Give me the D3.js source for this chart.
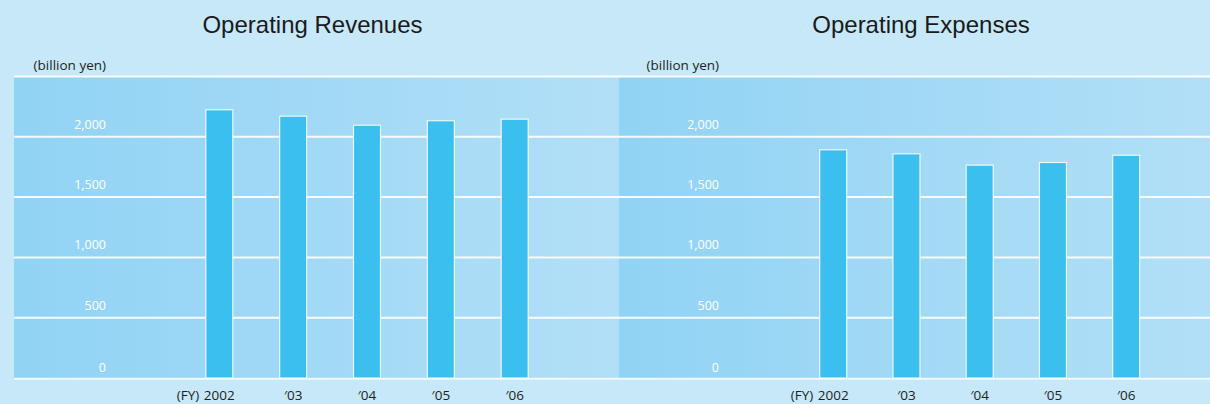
<!DOCTYPE html>
<html>
<head>
<meta charset="utf-8">
<script src="https://cdn.jsdelivr.net/npm/d3@7"></script>
<style>
  html, body { margin: 0; padding: 0; background: #c6e8f9; }
  svg { display: block; }
</style>
</head>
<body>
<div id="chart"></div>
<script>
// Fiscal years and values (billion yen)
const years = ["2002", "'03", "'04", "'05", "'06"];
const yearLabels = ["2002", "\u203203", "\u203204", "\u203205", "\u203206"];
const revenues = [2224, 2171, 2096, 2133, 2146];
const expenses = [1892, 1859, 1765, 1787, 1847];
const yTicks = [0, 500, 1000, 1500, 2000];
const gridValues = [500, 1000, 1500, 2000, 2500];
const titles = ["Operating Revenues", "Operating Expenses"];
const unitLabel = "(billion yen)";
const fyLabel = "(FY)";

const W = 1210, H = 404;
const svg = d3.select("#chart").append("svg")
  .attr("width", W).attr("height", H);

svg.append("rect").attr("width", W).attr("height", H).attr("fill", "#c6e8f9");

const defs = svg.append("defs");
const grad = defs.append("linearGradient").attr("id", "panelGrad")
  .attr("x1", "0%").attr("x2", "100%").attr("y1", "0%").attr("y2", "0%");
grad.append("stop").attr("offset", "0%").attr("stop-color", "#91d3f4");
grad.append("stop").attr("offset", "100%").attr("stop-color", "#b2dff7");

const y = d3.scaleLinear().domain([0, 2500]).range([378, 76.5]);

const panels = [
  { x0: 14, x1: 619, bars: [219.3, 514.7], tickRight: 106, title: titles[0], titleX: 312.5, values: revenues },
  { x0: 619, x1: 1210, bars: [833.2, 1126.2], tickRight: 719, title: titles[1], titleX: 921, values: expenses }
];

// Panel backgrounds
panels.forEach(p => {
  svg.append("rect")
    .attr("x", p.x0).attr("y", y(2500))
    .attr("width", p.x1 - p.x0).attr("height", y(0) - y(2500))
    .attr("fill", "url(#panelGrad)");
});

// Horizontal gridlines across both panels
svg.append("g").selectAll("line").data(gridValues).join("line")
  .attr("x1", 14).attr("x2", W)
  .attr("y1", d => y(d)).attr("y2", d => y(d))
  .attr("stroke", "#ffffff").attr("stroke-width", 2).attr("stroke-opacity", 0.9);

// Baseline
svg.append("line")
  .attr("x1", 14).attr("x2", W)
  .attr("y1", y(0) + 0.8).attr("y2", y(0) + 0.8)
  .attr("stroke", "#ffffff").attr("stroke-width", 2).attr("stroke-opacity", 0.75);

const barW = 27;

panels.forEach(p => {
  const x = d3.scalePoint().domain(years).range(p.bars);
  const g = svg.append("g");

  // Title
  svg.append("text")
    .attr("x", p.titleX).attr("y", 33)
    .attr("text-anchor", "middle")
    .attr("font-family", "Liberation Sans, Arial, sans-serif")
    .attr("font-size", 24)
    .attr("fill", "#1a1a1a")
    .text(p.title);

  // Unit label
  svg.append("text")
    .attr("x", p.tickRight).attr("y", 70)
    .attr("text-anchor", "end")
    .attr("font-family", "Open Sans, sans-serif")
    .attr("font-size", 13.5)
    .attr("fill", "#231f20")
    .text(unitLabel);

  // Y tick labels
  g.selectAll("text.tick").data(yTicks).join("text")
    .attr("class", "tick")
    .attr("x", p.tickRight)
    .attr("y", d => y(d) - (d === 0 ? 6 : 8))
    .attr("text-anchor", "end")
    .attr("font-family", "Open Sans, sans-serif")
    .attr("font-size", 12.5)
    .attr("fill", "#ffffff")
    .text(d => d3.format(",")(d));

  // Bars
  g.selectAll("rect.bar").data(p.values).join("rect")
    .attr("class", "bar")
    .attr("x", (d, i) => x(years[i]) - barW / 2)
    .attr("y", d => y(d))
    .attr("width", barW)
    .attr("height", d => y(0) - y(d))
    .attr("fill", "#3abfef")
    .attr("stroke", "#ffffff")
    .attr("stroke-opacity", 0.85)
    .attr("stroke-width", 1.2);

  // X labels
  g.selectAll("text.xl").data(years).join("text")
    .attr("class", "xl")
    .attr("x", d => x(d))
    .attr("y", 399.5)
    .attr("text-anchor", "middle")
    .attr("font-family", "Open Sans, sans-serif")
    .attr("font-size", 13.5)
    .attr("fill", "#231f20")
    .text((d, i) => yearLabels[i]);

  g.append("text")
    .attr("x", x(years[0]) - 20)
    .attr("y", 399.5)
    .attr("text-anchor", "end")
    .attr("font-family", "Open Sans, sans-serif")
    .attr("font-size", 13.5)
    .attr("fill", "#231f20")
    .text(fyLabel);
});
</script>
</body>
</html>
